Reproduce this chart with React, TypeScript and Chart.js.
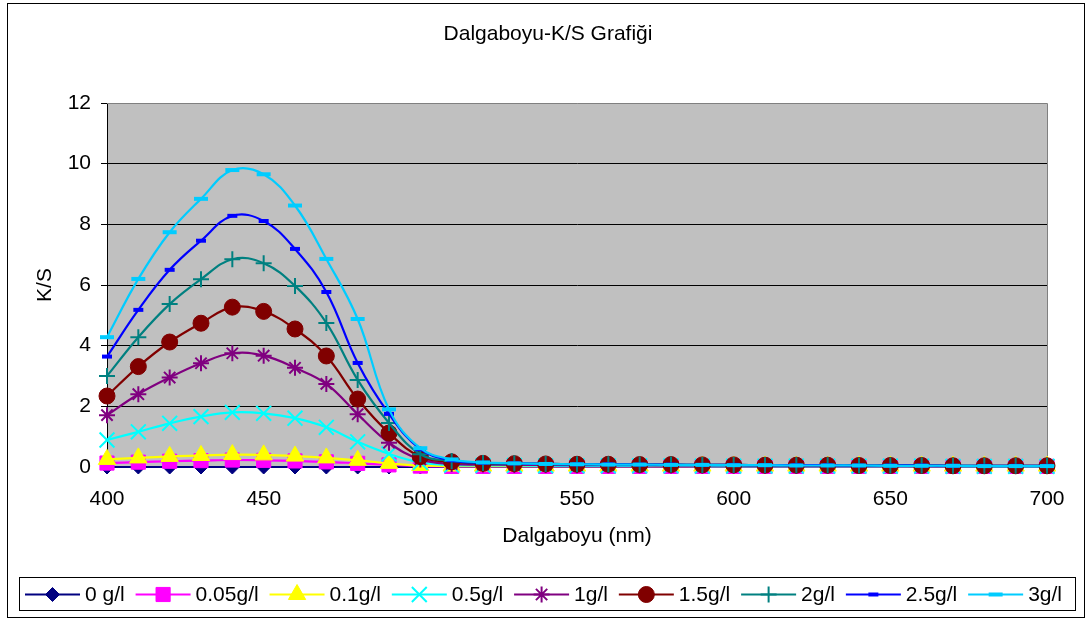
import React, { useEffect, useRef } from 'react';
import { Chart, registerables } from 'chart.js';
import { drawPoint } from 'chart.js/helpers';

Chart.register(...registerables);

const FONT = "'Liberation Sans', Arial, sans-serif";
const FS = 21;

const chartTitle = 'Dalgaboyu-K/S Grafiği';
const xAxisTitle = 'Dalgaboyu (nm)';
const yAxisTitle = 'K/S';

const wavelengths = [400, 410, 420, 430, 440, 450, 460, 470, 480, 490, 500, 510, 520, 530, 540, 550, 560, 570, 580, 590, 600, 610, 620, 630, 640, 650, 660, 670, 680, 690, 700];

const seriesLabels = ['0 g/l', '0.05g/l', '0.1g/l', '0.5g/l', '1g/l', '1.5g/l', '2g/l', '2.5g/l', '3g/l'];

const s0 = [0, 0, 0, 0, 0, 0, 0, 0, 0, 0, 0, 0, 0, 0, 0, 0, 0, 0, 0, 0, 0, 0, 0, 0, 0, 0, 0, 0, 0, 0, 0];
const s005 = [0.13, 0.16, 0.19, 0.21, 0.23, 0.22, 0.2, 0.17, 0.12, 0.07, 0.03, 0.02, 0.02, 0.02, 0.02, 0.02, 0.02, 0.02, 0.02, 0.02, 0.02, 0.02, 0.02, 0.02, 0.02, 0.02, 0.02, 0.02, 0.02, 0.02, 0.02];
const s01 = [0.25, 0.3, 0.35, 0.38, 0.41, 0.4, 0.36, 0.3, 0.22, 0.12, 0.05, 0.03, 0.03, 0.03, 0.03, 0.03, 0.03, 0.03, 0.03, 0.03, 0.03, 0.03, 0.03, 0.03, 0.03, 0.03, 0.03, 0.03, 0.03, 0.03, 0.03];
const s05 = [0.89, 1.16, 1.44, 1.66, 1.8, 1.77, 1.61, 1.31, 0.83, 0.43, 0.15, 0.06, 0.05, 0.05, 0.04, 0.04, 0.04, 0.04, 0.04, 0.03, 0.03, 0.03, 0.03, 0.03, 0.03, 0.03, 0.03, 0.02, 0.02, 0.02, 0.02];
const s1 = [1.71, 2.4, 2.95, 3.42, 3.75, 3.67, 3.27, 2.74, 1.74, 0.8, 0.25, 0.1, 0.08, 0.07, 0.07, 0.06, 0.06, 0.06, 0.05, 0.05, 0.05, 0.05, 0.04, 0.04, 0.04, 0.04, 0.03, 0.03, 0.03, 0.03, 0.03];
const s15 = [2.34, 3.31, 4.12, 4.74, 5.27, 5.13, 4.55, 3.66, 2.24, 1.12, 0.34, 0.17, 0.12, 0.11, 0.1, 0.09, 0.09, 0.08, 0.08, 0.07, 0.07, 0.06, 0.06, 0.06, 0.05, 0.05, 0.05, 0.04, 0.04, 0.04, 0.04];
const s2 = [3.0, 4.28, 5.37, 6.19, 6.85, 6.72, 5.97, 4.75, 2.87, 1.45, 0.42, 0.2, 0.13, 0.12, 0.1, 0.09, 0.09, 0.08, 0.08, 0.07, 0.07, 0.06, 0.06, 0.06, 0.05, 0.05, 0.05, 0.04, 0.04, 0.04, 0.04];
const s25 = [3.64, 5.18, 6.5, 7.46, 8.28, 8.11, 7.19, 5.77, 3.43, 1.75, 0.59, 0.22, 0.14, 0.12, 0.1, 0.09, 0.09, 0.08, 0.08, 0.07, 0.07, 0.06, 0.06, 0.06, 0.05, 0.05, 0.05, 0.04, 0.04, 0.04, 0.04];
const s3 = [4.28, 6.2, 7.74, 8.84, 9.79, 9.65, 8.62, 6.86, 4.88, 1.9, 0.62, 0.25, 0.15, 0.12, 0.1, 0.09, 0.08, 0.08, 0.07, 0.07, 0.06, 0.06, 0.05, 0.05, 0.05, 0.04, 0.04, 0.04, 0.03, 0.03, 0.03];

const seriesValues = [s0, s005, s01, s05, s1, s15, s2, s25, s3];

const seriesColors = ['#000080', '#FF00FF', '#FFFF00', '#00FFFF', '#800080', '#800000', '#008080', '#0000FF', '#00CCFF'];
const seriesPointStyles = ['rectRot', 'rect', 'triangle', 'crossRot', 'star', 'circle', 'cross', 'line', 'line'];
const seriesPointRadius = [7, 10, 10, 10.5, 8, 8, 8, 5, 7];
const seriesPointBorder = [1, 1, 1, 2, 2, 1, 2, 4, 4];

const yTicks = [0, 2, 4, 6, 8, 10, 12];
const xTicks = [400, 450, 500, 550, 600, 650, 700];

const decorPlugin = {
  id: 'decor',
  beforeDraw(chart: any) {
    const { ctx, chartArea } = chart;
    ctx.save();
    ctx.fillStyle = '#FFFFFF';
    ctx.fillRect(0, 0, chart.width, chart.height);
    ctx.fillStyle = '#C0C0C0';
    ctx.fillRect(chartArea.left, chartArea.top, chartArea.right - chartArea.left, chartArea.bottom - chartArea.top);
    ctx.restore();
  },
  beforeDatasetsDraw(chart: any) {
    const { ctx, chartArea } = chart;
    ctx.save();
    ctx.strokeStyle = '#808080';
    ctx.lineWidth = 1;
    ctx.beginPath();
    ctx.moveTo(chartArea.left, chartArea.top + 0.5);
    ctx.lineTo(chartArea.right + 0.5, chartArea.top + 0.5);
    ctx.lineTo(chartArea.right + 0.5, chartArea.bottom);
    ctx.stroke();
    ctx.restore();
  },
  afterDraw(chart: any) {
    const { ctx } = chart;
    ctx.save();
    ctx.strokeStyle = '#000000';
    ctx.lineWidth = 1;
    ctx.strokeRect(7.5, 3.5, 1077, 614);
    ctx.fillStyle = '#000000';
    ctx.font = `${FS}px ${FONT}`;
    ctx.textAlign = 'center';
    ctx.textBaseline = 'middle';
    ctx.fillText(chartTitle, 548, 34);
    ctx.strokeRect(19.5, 577.5, 1056, 33);
    const lineLen = 55;
    const textGap = 5;
    const startX = 25;
    const endX = 1062;
    const widths = seriesLabels.map((l) => ctx.measureText(l).width);
    const total = widths.reduce((a, b) => a + b + lineLen + textGap, 0);
    const gap = (endX - startX - total) / (seriesLabels.length - 1);
    let x = startX;
    const y = 594.5;
    ctx.textAlign = 'left';
    seriesLabels.forEach((label, i) => {
      ctx.strokeStyle = seriesColors[i];
      ctx.fillStyle = seriesColors[i];
      ctx.lineWidth = 2;
      ctx.beginPath();
      ctx.moveTo(x, y);
      ctx.lineTo(x + lineLen, y);
      ctx.stroke();
      ctx.lineWidth = seriesPointBorder[i];
      drawPoint(ctx, {
        pointStyle: seriesPointStyles[i] as any,
        radius: seriesPointRadius[i],
        borderWidth: seriesPointBorder[i],
        rotation: 0,
      } as any, x + lineLen / 2, y);
      ctx.fillStyle = '#000000';
      ctx.fillText(label, x + lineLen + textGap, y + 1);
      x += lineLen + textGap + widths[i] + gap;
    });
    ctx.restore();
  },
};

export default function App() {
  const ref = useRef<HTMLCanvasElement>(null);
  useEffect(() => {
    document.body.style.margin = '0';
    Chart.defaults.font.family = FONT;
    Chart.defaults.font.size = FS;
    Chart.defaults.color = '#000000';
    const datasets = seriesLabels.map((label, i) => ({
      label,
      data: wavelengths.map((w, j) => ({ x: w, y: seriesValues[i][j] })),
      borderColor: seriesColors[i],
      backgroundColor: seriesColors[i],
      pointBackgroundColor: seriesColors[i],
      pointBorderColor: seriesColors[i],
      pointStyle: seriesPointStyles[i] as any,
      pointRadius: seriesPointRadius[i],
      pointBorderWidth: seriesPointBorder[i],
      borderWidth: 2.2,
      tension: 0.4,
      fill: false,
      clip: false,
      order: seriesLabels.length - i,
    }));
    const chart = new Chart(ref.current as HTMLCanvasElement, {
      type: 'line',
      data: { datasets },
      options: {
        animation: false,
        responsive: false,
        events: [],
        layout: { padding: { left: 0, right: 42, top: 103, bottom: 70.4 } },
        plugins: {
          legend: { display: false },
          title: { display: false },
          tooltip: { enabled: false },
        },
        scales: {
          x: {
            type: 'linear',
            min: 400,
            max: 700,
            afterFit: (s: any) => { s.height = 81.6; },
            afterBuildTicks: (s: any) => { s.ticks = xTicks.map((v) => ({ value: v })); },
            ticks: { padding: 19.4, maxRotation: 0, font: { size: FS }, color: '#000' },
            grid: { display: false, drawTicks: false },
            border: { display: true, color: '#000000', width: 1 },
            title: { display: true, text: xAxisTitle, font: { size: FS }, color: '#000', padding: { top: 0, bottom: 0 } },
          },
          y: {
            type: 'linear',
            min: 0,
            max: 12,
            afterFit: (s: any) => { s.width = 107; },
            afterBuildTicks: (s: any) => { s.ticks = yTicks.map((v) => ({ value: v })); },
            ticks: { padding: 10, font: { size: FS }, color: '#000' },
            grid: {
              color: (c: any) => (c.tick && c.tick.value === 12 ? 'rgba(0,0,0,0)' : '#000000'),
              tickColor: '#000000',
              tickLength: 6,
              lineWidth: 1,
            },
            border: { display: true, color: '#000000', width: 1 },
            title: { display: true, text: yAxisTitle, font: { size: FS }, color: '#000', padding: { top: 32.4, bottom: 0 } },
          },
        },
      },
      plugins: [decorPlugin],
    } as any);
    return () => chart.destroy();
  }, []);
  return (
    <div style={{ width: 1089, height: 619, position: 'relative' }}>
      <canvas ref={ref} width={1089} height={619} style={{ display: 'block' }} />
    </div>
  );
}
